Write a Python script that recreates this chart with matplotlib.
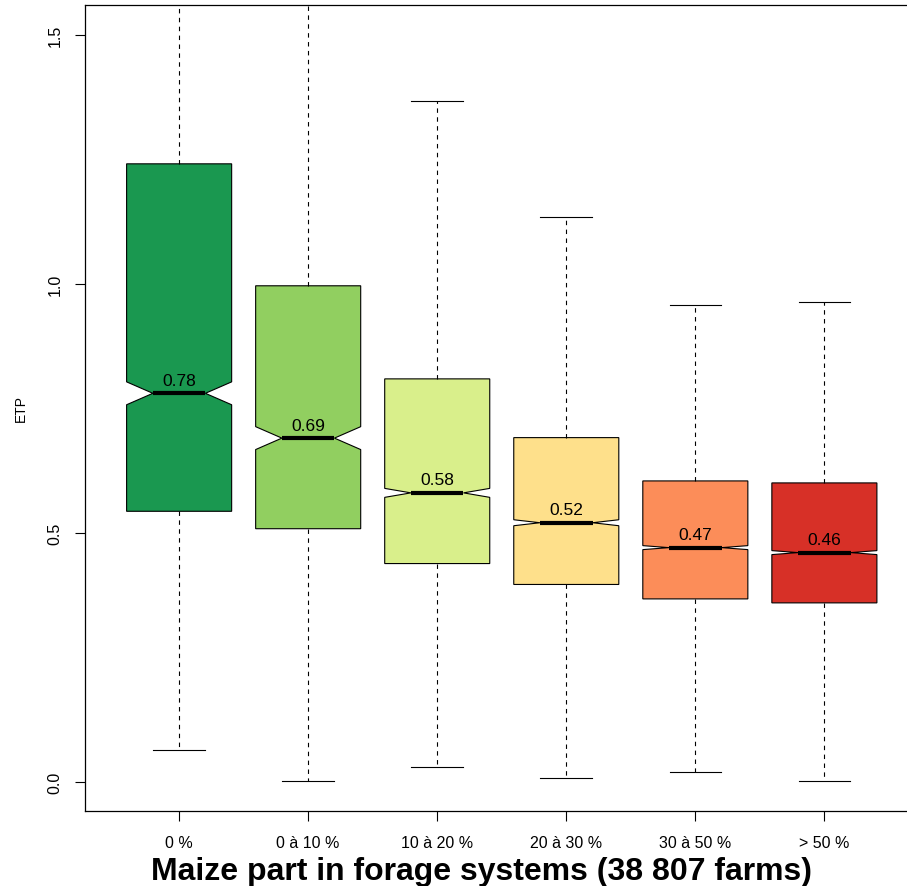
import matplotlib
matplotlib.use("Agg")
import matplotlib.pyplot as plt

# Maize share classes and ETP distribution summaries
categories = ["0 %", "0 à 10 %", "10 à 20 %", "20 à 30 %", "30 à 50 %", "> 50 %"]
medians = [0.78, 0.69, 0.58, 0.52, 0.47, 0.46]
q1 = [0.543, 0.508, 0.438, 0.396, 0.367, 0.359]
q3 = [1.241, 0.996, 0.809, 0.691, 0.604, 0.600]
whisker_low = [0.063, 0.002, 0.030, 0.008, 0.020, 0.002]
whisker_high = [2.29, 1.73, 1.367, 1.135, 0.958, 0.964]
notch_half = [0.023, 0.023, 0.009, 0.006, 0.004, 0.004]
colors = ["#1A9850", "#91CF60", "#D9EF8B", "#FEE08B", "#FC8D59", "#D73027"]

plt.rcParams["font.family"] = ["Liberation Sans", "DejaVu Sans"]

fig = plt.figure(figsize=(9.07, 8.87), dpi=100)
ax = fig.add_axes([0.0932, 0.0846, 0.920, 0.9086])

stats = []
for i, cat in enumerate(categories):
    stats.append(dict(
        label=cat, med=medians[i], q1=q1[i], q3=q3[i],
        whislo=whisker_low[i], whishi=whisker_high[i],
        cilo=medians[i] - notch_half[i], cihi=medians[i] + notch_half[i],
        fliers=[],
    ))

positions = list(range(1, len(categories) + 1))
bp = ax.bxp(
    stats, positions=positions, widths=0.814, shownotches=True,
    patch_artist=True, showfliers=False,
    boxprops=dict(edgecolor="black", linewidth=0.8),
    medianprops=dict(color="black", linewidth=3.0, solid_capstyle="butt"),
    whiskerprops=dict(color="black", linewidth=0.8, linestyle=(0, (4, 4))),
    capprops=dict(color="black", linewidth=0.8),
    capwidths=0.40,
)
for patch, c in zip(bp["boxes"], colors):
    patch.set_facecolor(c)

for x, m in zip(positions, medians):
    ax.annotate(f"{m:.2f}", xy=(x, m), xytext=(0, 4), textcoords="offset points",
                ha="center", va="bottom", fontsize=12.5, color="black")

ax.set_xlim(0.267, 6.733)
ax.set_ylim(-0.059, 1.56)
ax.set_yticks([0.0, 0.5, 1.0, 1.5])
ax.set_yticklabels(["0.0", "0.5", "1.0", "1.5"], rotation=90, va="center")
ax.set_xticks(positions)
ax.set_xticklabels(categories)
ax.tick_params(axis="both", direction="out", length=7, width=0.8, labelsize=11.5, pad=10)
ax.tick_params(axis="y", pad=9)
for s in ax.spines.values():
    s.set_linewidth(0.9)

ax.set_ylabel("ETP", fontsize=10, labelpad=14)
ax.set_xlabel("Maize part in forage systems (38 807 farms)", fontsize=23,
              fontweight="bold")
ax.xaxis.set_label_coords(0.476, -0.0555)

fig.savefig("out.png", dpi=100)
